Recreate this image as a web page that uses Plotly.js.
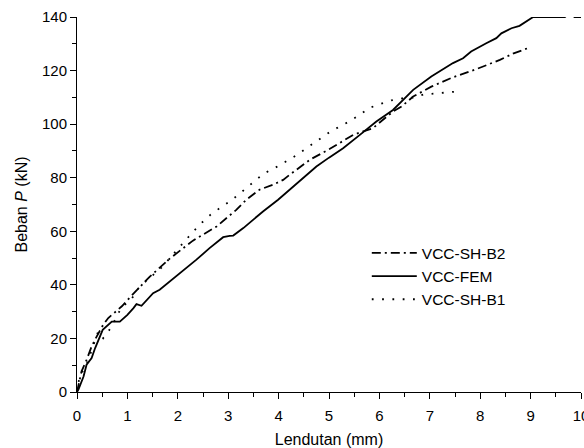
<!DOCTYPE html>
<html>
<head>
<meta charset="utf-8">
<script src="https://cdn.plot.ly/plotly-3.0.1.min.js"></script>
<style>html,body{margin:0;padding:0;background:#fff;}#chart{width:584px;height:448px;}</style>
</head>
<body>
<div id="chart"></div>
<script>
// VCC-SH-B2 (dash-dot)
var b2X = [0, 0.09, 0.19, 0.29, 0.39, 0.52, 0.62, 0.89, 1.05, 1.44, 1.84, 2.3, 2.77, 3.16, 3.36, 3.62, 3.89, 4.09, 4.22, 4.62, 5.01, 5.48, 5.87, 6.27, 6.44, 6.67, 7.03, 7.46, 7.92, 8.39, 8.65, 8.95];
var b2Y = [0, 7.7, 12, 17, 20.7, 25.1, 27.6, 32, 35.3, 43, 49.8, 56.5, 61.8, 68, 71.8, 75.5, 77.4, 79.2, 81.1, 86.7, 90.7, 96, 98.5, 104.7, 106.6, 110.3, 114, 117.5, 120.5, 124, 126.3, 128.4];
// VCC-FEM (solid)
var femX = [0, 0.03, 0.13, 0.19, 0.29, 0.36, 0.51, 0.69, 0.85, 1.0, 1.12, 1.18, 1.28, 1.44, 1.51, 1.64, 1.84, 1.97, 2.1, 2.37, 2.63, 2.9, 3.03, 3.1, 3.3, 3.49, 3.69, 3.99, 4.2, 4.42, 4.75, 5.0, 5.28, 5.6, 5.94, 6.27, 6.47, 6.67, 7.03, 7.25, 7.46, 7.66, 7.82, 8.12, 8.32, 8.42, 8.62, 8.78, 9.05, 9.68, 9.75, 9.82, 9.87, 10];
var femY = [0, 1, 5.8, 10.2, 12.7, 16.4, 23.2, 26.3, 26.3, 28.8, 31.3, 32.8, 32.2, 35.7, 36.9, 38.2, 41.2, 43.1, 45, 49.4, 53.7, 57.8, 58.3, 58.4, 61.2, 64.3, 67.4, 71.8, 75.2, 78.6, 84.2, 87.5, 91, 95.8, 101, 105.3, 109, 112.8, 117.8, 120.2, 122.8, 124.6, 127.1, 130.2, 132.1, 133.9, 135.8, 136.7, 140, 140, 141, 141, 140, 140];
// VCC-SH-B1 (dotted)
var b1X = [0, 0.05, 0.19, 0.42, 0.52, 0.67, 0.79, 0.89, 1.05, 1.24, 1.67, 1.87, 2.04, 2.24, 2.43, 2.65, 2.86, 3.08, 3.28, 3.49, 3.7, 3.92, 4.13, 4.34, 4.55, 4.76, 4.98, 5.19, 5.4, 5.61, 5.82, 6.03, 6.24, 6.47, 6.67, 6.87, 7.06, 7.3, 7.55];
var b1Y = [0, 5.8, 10.2, 22.6, 20.1, 23.9, 28.2, 32, 33.8, 39.3, 46.3, 50.6, 54.6, 58.5, 62.4, 66.2, 69, 71.8, 74.9, 78.2, 81.5, 83.6, 85.8, 88.2, 91, 93.9, 96.6, 98.9, 101, 103.5, 106.2, 107.6, 108.9, 109.7, 109.9, 111, 111.3, 111.8, 112.2];

var names = ['VCC-SH-B2', 'VCC-FEM', 'VCC-SH-B1'];
var xTicks = [0, 1, 2, 3, 4, 5, 6, 7, 8, 9, 10];
var yTicks = [0, 20, 40, 60, 80, 100, 120, 140];

var traces = [
  {x: b2X, y: b2Y, name: names[0], mode: 'lines', line: {color: '#000', width: 1.8, dash: '9px,4px,2px,4px'}},
  {x: femX, y: femY, name: names[1], mode: 'lines', line: {color: '#000', width: 1.8}},
  {x: b1X, y: b1Y, name: names[2], mode: 'lines', line: {color: '#000', width: 1.8, dash: '1.8px,8.5px'}}
];

var font = 'Liberation Sans, Arial, sans-serif';
var layout = {
  width: 584, height: 448,
  margin: {l: 77, r: 3, t: 17, b: 56},
  paper_bgcolor: '#fff', plot_bgcolor: '#fff',
  font: {family: font, color: '#000', size: 15},
  showlegend: true,
  legend: {x: 0.575, y: 0.415, xanchor: 'left', yanchor: 'top', bgcolor: 'rgba(0,0,0,0)',
           font: {family: font, size: 15.5, color: '#000'}, itemwidth: 45, tracegroupgap: 0},
  xaxis: {
    range: [0, 10], tickmode: 'array', tickvals: xTicks, ticktext: xTicks.map(String),
    showgrid: false, zeroline: false, showline: true, linecolor: '#000', linewidth: 1,
    ticks: 'outside', ticklen: 6, tickwidth: 1, tickcolor: '#000', ticklabelstandoff: 4,
    ticklabeloverflow: 'allow',
    minor: {dtick: 0.5, ticks: 'outside', ticklen: 4, tickwidth: 1, tickcolor: '#000', showgrid: false},
    tickfont: {size: 15},
    title: {text: 'Lendutan (mm)', font: {size: 16}, standoff: 12}
  },
  yaxis: {
    range: [0, 140], tickmode: 'array', tickvals: yTicks, ticktext: yTicks.map(String),
    showgrid: false, zeroline: false, showline: true, linecolor: '#000', linewidth: 1,
    ticks: 'outside', ticklen: 6, tickwidth: 1, tickcolor: '#000',
    ticklabeloverflow: 'allow',
    minor: {dtick: 10, ticks: 'outside', ticklen: 4, tickwidth: 1, tickcolor: '#000', showgrid: false},
    tickfont: {size: 15},
    title: {text: 'Beban <i>P</i> (kN)', font: {size: 16}, standoff: 10}
  }
};

Plotly.newPlot('chart', traces, layout, {staticPlot: true, displayModeBar: false});
</script>
</body>
</html>
